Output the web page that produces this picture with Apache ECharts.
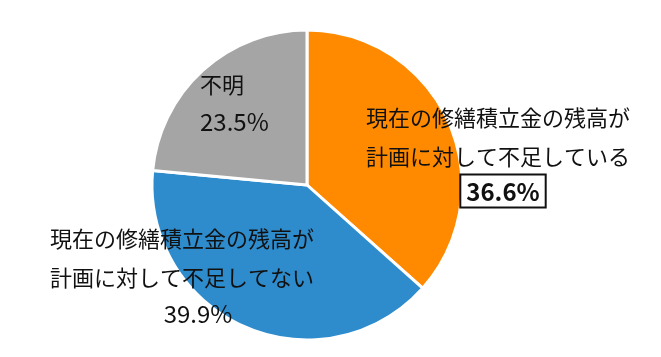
<!DOCTYPE html>
<html><head><meta charset="utf-8">
<script src="https://cdn.jsdelivr.net/npm/echarts@6/dist/echarts.min.js"></script>
<style>html,body{margin:0;padding:0;background:#fff}#c{width:661px;height:357px}</style>
</head><body><div id="c"></div>
<script>
const categories = ['現在の修繕積立金の残高が\n計画に対して不足している', '現在の修繕積立金の残高が\n計画に対して不足してない', '不明'];
const values = [36.6, 39.9, 23.5];
const colors = ['#FF8A00', '#2E8BCC', '#A5A5A5'];

const FONT = '"Noto Sans CJK JP", sans-serif';
const chart = echarts.init(document.getElementById('c'), null, {renderer: 'canvas'});

function fmt(p) {
  const lines = p.name.split('\n');
  const pct = p.value.toFixed(1) + '%';
  const head = lines.map(l => '{a|' + l + '}').join('\n');
  if (p.dataIndex === 0) return head + '\n{sp| }{box|' + pct + '}';
  if (p.dataIndex === 1) return head + '\n{pc|' + pct + '}';
  return head + '\n{pl|' + pct + '}';
}

const layouts = [
  {x: 366, y: 98},
  {x: 50, y: 219},
  {x: 200, y: 65}
];

chart.setOption({
  animation: false,
  series: [{
    type: 'pie',
    center: [307, 185],
    radius: 155,
    startAngle: 90,
    clockwise: true,
    data: categories.map((c, i) => ({name: c, value: values[i], itemStyle: {color: colors[i]}})),
    itemStyle: {borderColor: '#fff', borderWidth: 3},
    label: {
      show: true,
      position: 'inside',
      formatter: fmt,
      color: '#111',
      fontFamily: FONT,
      rich: {
        a: {fontSize: 22, lineHeight: 39, fontFamily: FONT, color: '#111', align: 'left'},
        sp: {width: 10, align: 'center', fontSize: 10},
        box: {fontSize: 24, fontWeight: 'bold', fontFamily: FONT, color: '#111', align: 'center',
              borderColor: '#111', borderWidth: 2, backgroundColor: '#fff', padding: [4, 5, 3, 5], lineHeight: 30},
        pc: {fontSize: 24, lineHeight: 33, fontFamily: FONT, color: '#111', align: 'center', padding: [0, 0, 0, 32]},
        pl: {fontSize: 24, lineHeight: 35, fontFamily: FONT, color: '#111', align: 'left'}
      }
    },
    labelLine: {show: false},
    labelLayout: function (p) {
      const l = layouts[p.dataIndex];
      return {x: l.x, y: l.y, align: 'left', verticalAlign: 'top'};
    }
  }]
});
</script>
</body></html>
